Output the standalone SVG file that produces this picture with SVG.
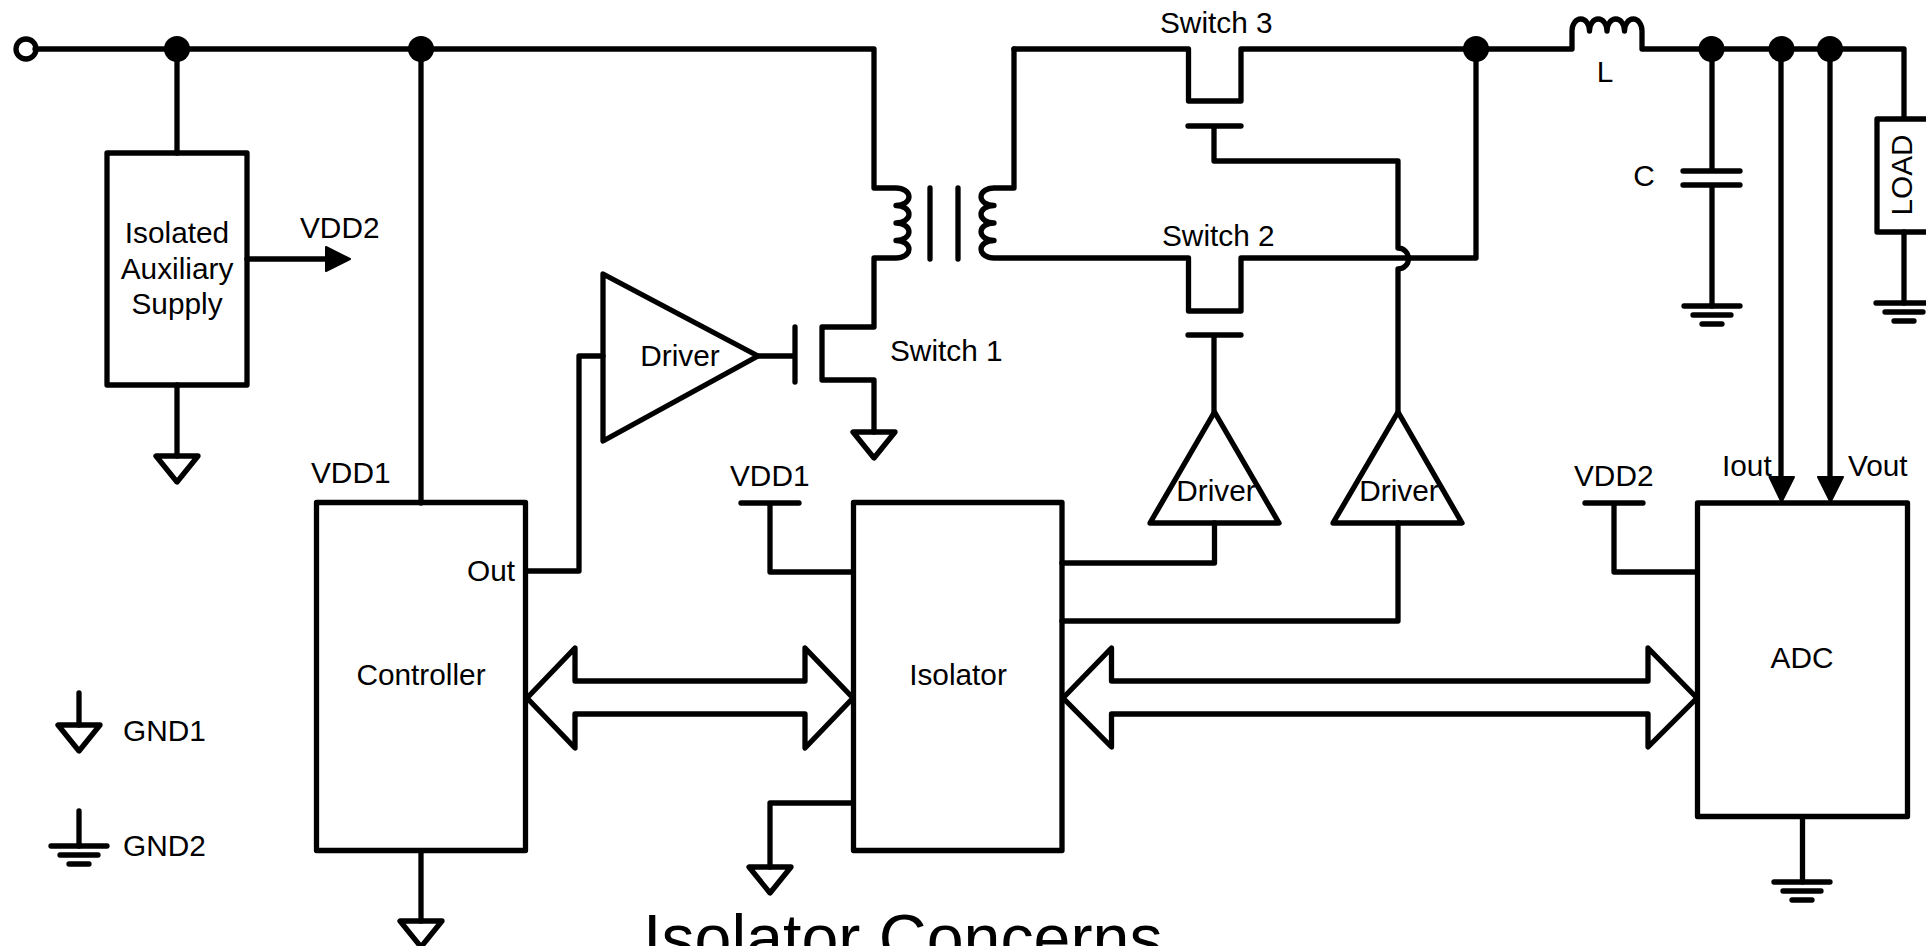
<svg xmlns="http://www.w3.org/2000/svg" width="1926" height="946" viewBox="0 0 1926 946">
<style>
.w{fill:none;stroke:#000;stroke-width:5.300;stroke-linejoin:round;stroke-linecap:round}
.b{fill:#000;stroke:none}
.ah{fill:#000;stroke:#000;stroke-width:2;stroke-linejoin:round}
text{font-family:"Liberation Sans",Arial,sans-serif;font-size:29.800px;fill:#000}
.m{text-anchor:middle}
</style>
<defs>
<g id="gnd1"><path class="w" d="M-21 0H21L0 26Z"/></g>
<g id="gnd2"><path class="w" d="M-28 0H28M-19 9H19M-10 18H10"/></g>
<g id="dot"><circle class="b" r="13"/></g>
</defs>
<rect width="1926" height="946" fill="#fff"/>
<g id="connectors">
<path class="w" d="M35 49H874V188H896A13 8.750 0 0 1 896 205.500A13 8.750 0 0 1 896 223A13 8.750 0 0 1 896 240.500A13 8.750 0 0 1 896 258H874V327H822V380H874V432"/>
<path class="w" d="M930 188V259M958 188V259"/>
<path class="w" d="M795 327V382M758 356H795"/>
<path class="w" d="M1014 49V188H994A13 8.750 0 0 0 994 205.500A13 8.750 0 0 0 994 223A13 8.750 0 0 0 994 240.500A13 8.750 0 0 0 994 258H1188.500V311H1241V258H1476V49"/>
<path class="w" d="M1014 49H1188.500V101H1241V49H1572V31A8.750 12 0 0 1 1589.500 31A8.750 12 0 0 1 1607 31A8.750 12 0 0 1 1624.500 31A8.750 12 0 0 1 1642 31V49H1904V117"/>
<path class="w" d="M1188 126H1241M1214 126V161H1398V248A10.500 10.500 0 0 1 1398 269V412"/>
<path class="w" d="M1188 335H1241M1214 335V412"/>
<path class="w" d="M177 49V153M177 385V456M421 49V503M421 851V921"/>
<path class="w" d="M247 259H328"/>
<path class="ah" d="M326 247L350 259L326 271Z"/>
<path class="w" d="M526 571H579V356H603"/>
<path class="w" d="M741 503H799M770 503V572H853"/>
<path class="w" d="M853 803H770V867"/>
<path class="w" d="M1062 563H1214.500V523M1062 621H1398V523"/>
<path class="w" d="M527 698L575 648V681H805V648L853 698L805 748V714H575V748Z"/>
<path class="w" d="M1063 698L1111.500 648V681H1648V648L1697 698L1648 747V714H1111.500V747Z"/>
<path class="w" d="M1585 503H1643M1614 503V572H1697"/>
<path class="w" d="M1781 49V478M1830 49V478"/>
<path class="ah" d="M1769.500 477H1794L1781.500 502Z"/>
<path class="ah" d="M1818 477H1843L1830.500 502Z"/>
<path class="w" d="M1712 49V171M1683 171H1740M1683 185H1740M1712 185V306"/>
<path class="w" d="M1904 232V303"/>
<path class="w" d="M1802.500 817V882"/>
<path class="w" d="M79 693V725M79 811V846"/>
</g>
<g id="in"><circle class="w" cx="26" cy="49" r="10" fill="#fff"/></g>
<g id="junctions">
<use href="#dot" x="177" y="49"/><use href="#dot" x="421" y="49"/><use href="#dot" x="1476" y="49"/><use href="#dot" x="1711.500" y="49"/><use href="#dot" x="1781.500" y="49"/><use href="#dot" x="1830" y="49"/>
</g>
<g id="aux-supply"><rect class="w" x="107" y="153" width="140" height="232"/><text class="m" x="177" y="243">Isolated</text><text class="m" x="177" y="279">Auxiliary</text><text class="m" x="177" y="314">Supply</text></g>
<g id="vdd2-out"><text x="300" y="238">VDD2</text></g>
<g id="driver1"><path class="w" d="M603 274L758 356L603 441Z"/><text class="m" x="680" y="366">Driver</text></g>
<g id="switch1"><text x="890" y="361">Switch 1</text></g>
<g id="switch2"><text x="1162" y="246">Switch 2</text></g>
<g id="switch3"><text x="1160" y="33">Switch 3</text></g>
<g id="driver2"><path class="w" d="M1214.500 412L1279 523H1150Z"/><text class="m" x="1216" y="501">Driver</text></g>
<g id="driver3"><path class="w" d="M1398 412L1462 523H1333Z"/><text class="m" x="1399" y="501">Driver</text></g>
<g id="controller"><rect class="w" x="316.500" y="502.500" width="209" height="348"/><text class="m" x="421" y="685">Controller</text><text x="467" y="581">Out</text><text x="311" y="483">VDD1</text></g>
<g id="isolator"><rect class="w" x="853.500" y="502.500" width="208.500" height="348"/><text class="m" x="958" y="685">Isolator</text><text x="730" y="486">VDD1</text></g>
<g id="adc"><rect class="w" x="1697.500" y="503" width="210" height="313.500"/><text class="m" x="1802" y="668">ADC</text><text x="1574" y="486">VDD2</text><text x="1722" y="476">Iout</text><text x="1848" y="476">Vout</text></g>
<g id="inductor"><text class="m" x="1605" y="82">L</text></g>
<g id="capacitor"><text class="m" x="1644" y="186">C</text></g>
<g id="load"><rect class="w" x="1877" y="119" width="60" height="113"/><text class="m" transform="translate(1911.500 175) rotate(-90)">LOAD</text></g>
<g id="grounds">
<use href="#gnd1" x="177" y="456"/><use href="#gnd1" x="874" y="432"/><use href="#gnd1" x="421" y="921"/><use href="#gnd1" x="770" y="867"/><use href="#gnd1" x="79" y="725"/>
<use href="#gnd2" x="1712" y="306"/><use href="#gnd2" x="1904" y="303"/><use href="#gnd2" x="1802" y="882"/><use href="#gnd2" x="79" y="846"/>
</g>
<g id="legend"><text x="123" y="741">GND1</text><text x="123" y="856">GND2</text></g>
<g id="title"><text x="643" y="961" style="font-size:66.300px">Isolator Concerns</text></g>
</svg>
